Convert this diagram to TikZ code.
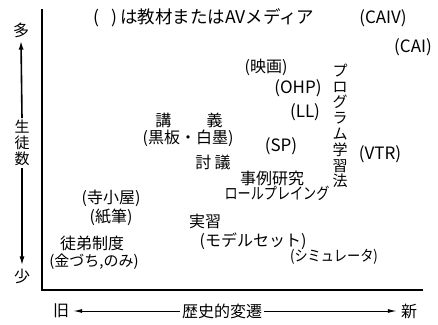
\documentclass[tikz,border=0pt]{standalone}
\usepackage{fontspec}
\setmainfont{Noto Sans CJK JP}
\usetikzlibrary{arrows.meta}
\tikzset{
  lbl/.style={inner sep=0pt, font=\fontsize{16}{18}\selectfont},
  small/.style={font=\fontsize{15}{17}\selectfont},
  latin/.style={font=\fontsize{17}{19}\selectfont},
  vlbl/.style={inner sep=2pt, align=center, font=\fontsize{15}{15.8}\selectfont},
  axisline/.style={line width=2.6pt, line cap=rect},
  larrow/.style={line width=1.6pt, -{Latex[length=9pt,width=5pt]}},
  barrow/.style={line width=1pt, -{Latex[length=9pt,width=4pt]}},
}
\begin{document}
\begin{tikzpicture}[x=1pt,y=-1pt]
\useasboundingbox (0,0) rectangle (438,324);
% axes
\coordinate (top) at (42,10);
\coordinate (orig) at (42,290);
\coordinate (xend) at (423,290);
\draw[axisline] (top) -- (orig);
\draw[line width=2pt] (orig) -- (xend);
% left axis labels
\node[lbl, inner sep=3pt] (ta) at (21,30) {多};
\node[vlbl] (sts) at (22,143) {生\\徒\\数};
\node[lbl, inner sep=3pt] (sho) at (22,276) {少};
\draw[larrow] (sts.north) -- (ta.south);
\draw[larrow] (sts.south) -- (sho.north);
% bottom axis labels
\node[lbl, inner sep=4pt] (kyu) at (61,311) {旧};
\node[lbl, inner sep=2pt] (hist) at (222,311) {歴史的変遷};
\node[lbl, inner sep=4pt] (shin) at (409,311) {新};
\draw[barrow] (hist.west) -- (kyu.east);
\draw[barrow] (hist.east) -- (shin.west);
% legend
\node[lbl, font=\fontsize{17.5}{19}\selectfont] (legend) at (204,18) {(\hspace{0.7em})\hspace{0.15em}は教材またはAVメディア};
% items
\node[lbl, latin] (caiv) at (383,18) {(CAIV)};
\node[lbl, latin] (cai) at (413,47) {(CAI)};
\node[lbl] (eiga) at (266,67) {(映画)};
\node[lbl, latin] (ohp) at (298,88) {(OHP)};
\node[lbl, latin] (ll) at (305,112) {(LL)};
\node[lbl, latin] (sp) at (281,146) {(SP)};
\node[lbl, latin] (vtr) at (380,154) {(VTR)};
\node[vlbl, inner sep=0pt] (prog) at (340,126) {プ\\ロ\\グ\\ラ\\ム\\学\\習\\法};
\node[lbl] (kogi) at (189,120) {講\hspace{2.2em}義};
\node[lbl] (kokuban) at (188,138) {(黒板・白墨)};
\node[lbl] (togi) at (213,162) {討\hspace{0.2em}議};
\node[lbl] (jirei) at (272,178) {事例研究};
\node[lbl] (role) at (277,193) {\scalebox{0.82}[1]{ロールプレイング}};
\node[lbl] (terako) at (111,198) {(寺小屋)};
\node[lbl] (shihitsu) at (111,217) {(紙筆)};
\node[lbl] (totei) at (92,243) {徒弟制度};
\node[lbl, font=\fontsize{15}{17}\selectfont] (kanazuchi) at (94,262) {(金づち,のみ)};
\node[lbl] (jisshu) at (205,221) {実習};
\node[lbl] (model) at (253,241) {(モデルセット)};
\node[lbl, small] (simu) at (334,257) {\scalebox{0.88}[1]{(シミュレータ)}};
\end{tikzpicture}
\end{document}
